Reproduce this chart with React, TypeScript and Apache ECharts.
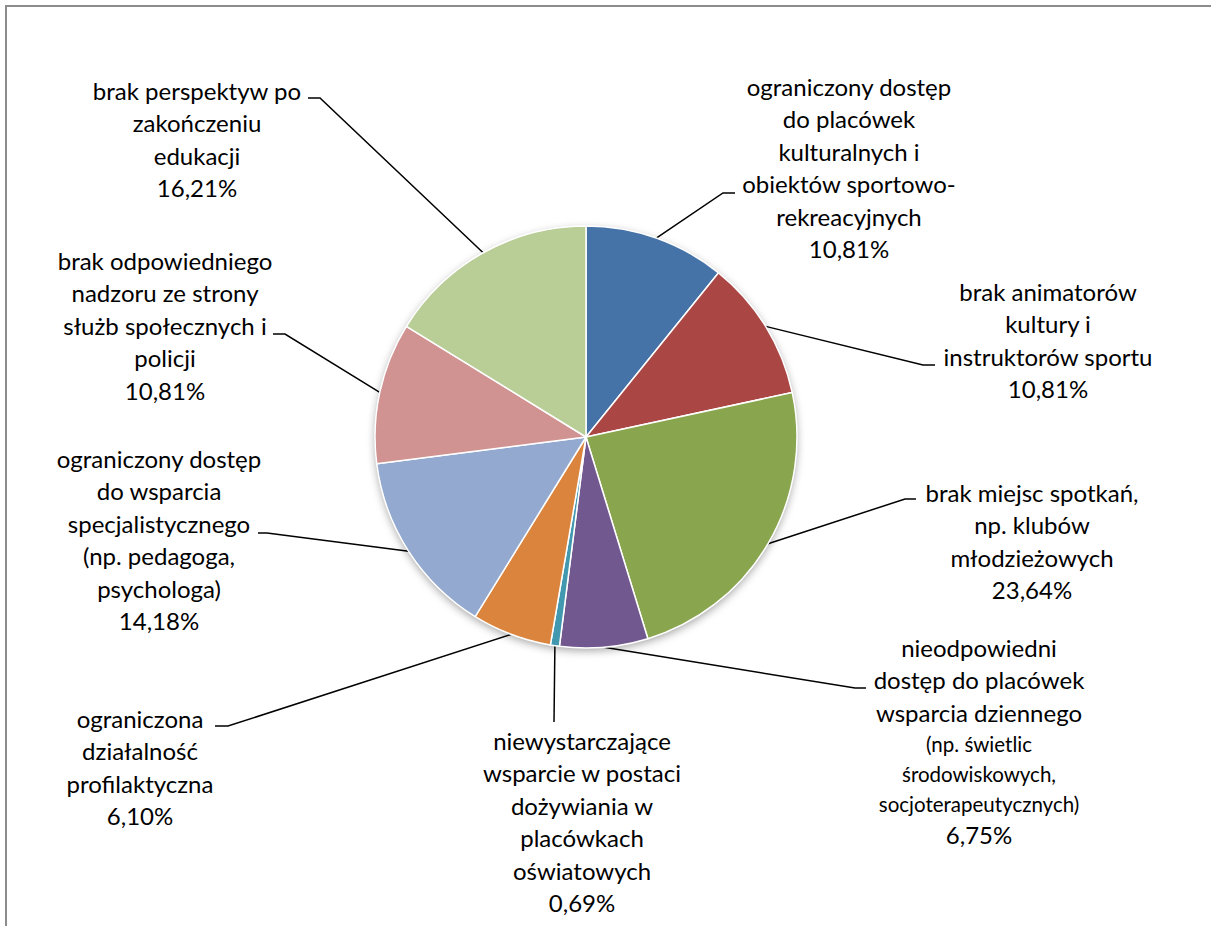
import React, { useEffect, useRef } from "react";
import * as echarts from "echarts";

const categories: string[] = [
  "ograniczony dostęp\ndo placówek\nkulturalnych i\nobiektów sportowo-\nrekreacyjnych",
  "brak animatorów\nkultury i\ninstruktorów sportu",
  "brak miejsc spotkań,\nnp. klubów\nmłodzieżowych",
  "nieodpowiedni\ndostęp do placówek\nwsparcia dziennego\n(np. świetlic\nśrodowiskowych,\nsocjoterapeutycznych)",
  "niewystarczające\nwsparcie w postaci\ndożywiania w\nplacówkach\noświatowych",
  "ograniczona\ndziałalność\nprofilaktyczna",
  "ograniczony dostęp\ndo wsparcia\nspecjalistycznego\n(np. pedagoga,\npsychologa)",
  "brak odpowiedniego\nnadzoru ze strony\nsłużb społecznych i\npolicji",
  "brak perspektyw po\nzakończeniu\nedukacji",
];

const values: number[] = [10.81, 10.81, 23.64, 6.75, 0.69, 6.1, 14.18, 10.81, 16.21];

const colors: string[] = [
  "#4572A7", "#AA4643", "#89A54E", "#71588F", "#4198AF",
  "#DB843D", "#93A9CF", "#D19392", "#B9CD96",
];

// index of first small-font line within a category label (-1 = none)
const smallLineStart: number[] = [-1, -1, -1, 3, -1, -1, -1, -1, -1];

// label placement: text centre x, top y, elbow point, end point of leader
const labelCenterX: number[] = [849, 1048, 1032, 979, 582, 140, 159, 165, 197];
const labelTopY: number[] = [70, 275, 476, 631, 724, 702, 442, 244, 74];
const elbow: number[][] = [
  [723, 193], [923, 365], [905, 499], [855, 688], [554, 722],
  [228, 726], [267, 533], [285, 334], [320, 98],
];
const leaderEnd: number[][] = [
  [735, 193], [935, 365], [916, 499], [866, 688], [554, 722],
  [215, 726], [258, 533], [273, 334], [308, 98],
];

const FONT = "Lato, 'Open Sans', sans-serif";

export default function App() {
  const ref = useRef<HTMLDivElement>(null);
  useEffect(() => {
    document.body.style.margin = "0";
    const chart = echarts.init(ref.current!, null, { renderer: "svg" });
    const data = categories.map((name, i) => ({
      name,
      value: values[i],
      itemStyle: { color: colors[i] },
    }));
    chart.setOption({
      animation: false,
      backgroundColor: "#ffffff",
      graphic: [
        {
          type: "rect",
          shape: { x: 6, y: 6, width: 1220, height: 960 },
          style: { fill: "none", stroke: "#8c8c8c", lineWidth: 2 },
          silent: true,
          z: 0,
        },
      ],
      series: [
        {
          type: "pie",
          silent: true,
          center: [586, 437],
          radius: 211,
          z: 1,
          label: { show: false },
          labelLine: { show: false },
          itemStyle: {
            color: "#ffffff",
            shadowBlur: 8,
            shadowColor: "rgba(0,0,0,0.35)",
            shadowOffsetY: 3,
          },
          data: [{ value: 1, name: "" }],
        },
        {
          type: "pie",
          center: [586, 437],
          radius: 211,
          startAngle: 90,
          clockwise: true,
          z: 2,
          itemStyle: { borderColor: "#ffffff", borderWidth: 1.5 },
          label: {
            show: true,
            position: "outside",
            fontFamily: FONT,
            color: "#000000",
            formatter: (p: any) => {
              const idx = p.dataIndex;
              const lines = String(p.name).split("\n");
              const pct = values[idx].toFixed(2).replace(".", ",") + "%";
              const out = lines.map((l, j) =>
                smallLineStart[idx] >= 0 && j >= smallLineStart[idx]
                  ? `{s|${l}}`
                  : `{n|${l}}`
              );
              out.push(`{n|${pct}}`);
              return out.join("\n");
            },
            rich: {
              n: { fontFamily: FONT, fontSize: 24, lineHeight: 32.5, color: "#000000", align: "center" },
              s: { fontFamily: FONT, fontSize: 20.5, lineHeight: 30, color: "#000000", align: "center" },
            },
          },
          labelLine: { show: true, lineStyle: { color: "#000000", width: 1.5 } },
          labelLayout: (params: any) => {
            const i = params.dataIndex;
            const start = params.labelLinePoints
              ? params.labelLinePoints[0]
              : [0, 0];
            return {
              x: labelCenterX[i],
              y: labelTopY[i],
              align: "center",
              verticalAlign: "top",
              labelLinePoints: [start, elbow[i], leaderEnd[i]],
            };
          },
          data,
        },
      ],
    });
    return () => chart.dispose();
  }, []);
  return <div ref={ref} style={{ width: 1211, height: 926 }} />;
}
